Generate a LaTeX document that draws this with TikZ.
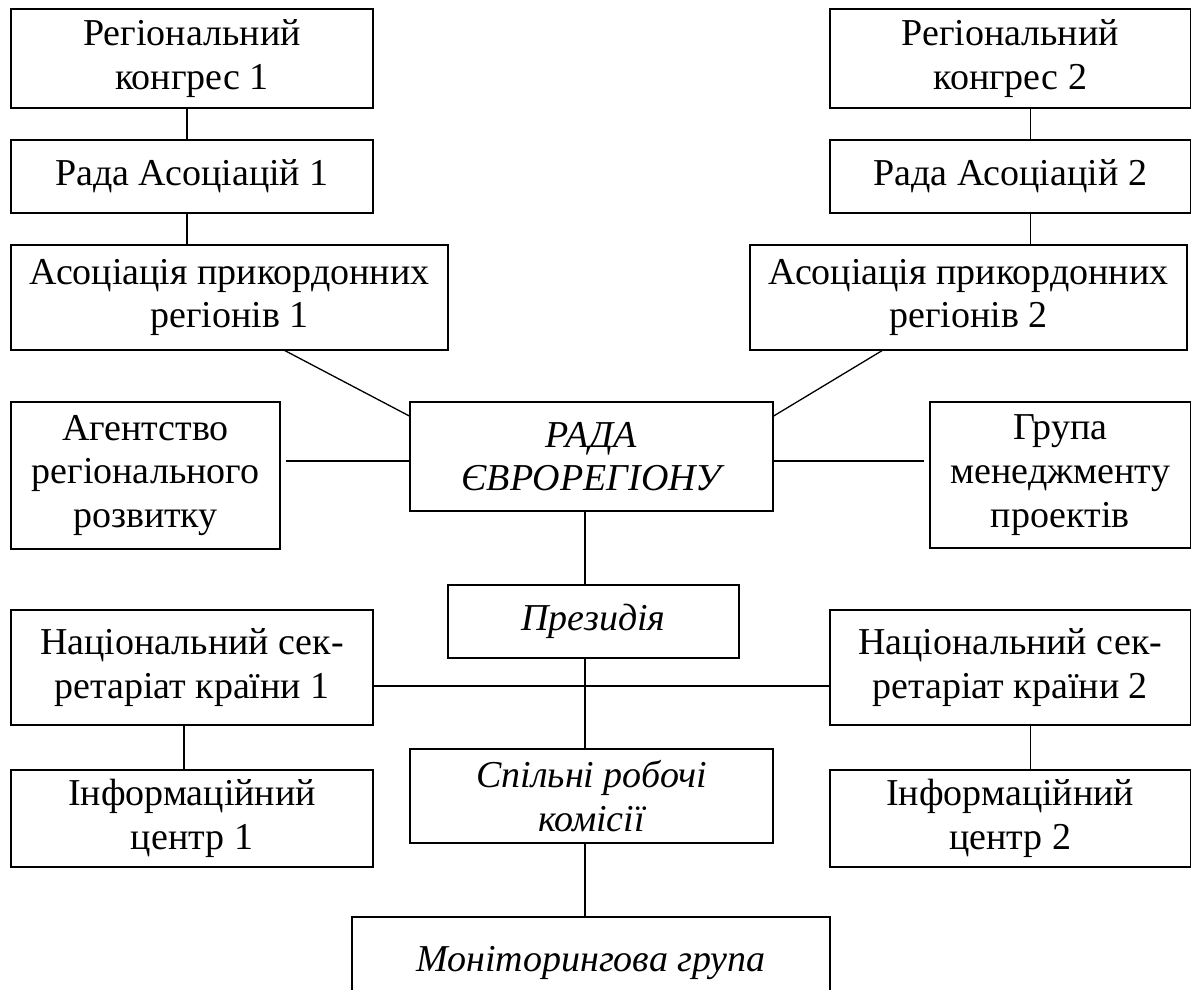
\documentclass[tikz,border=0pt]{standalone}
\usepackage{fontspec}
\setmainfont{Liberation Serif}
\usetikzlibrary{calc}
\tikzset{
  boxst/.style={draw, line width=1.3pt, inner sep=0pt, align=center,
    font=\fontsize{38}{43.7}\selectfont},
  itbox/.style={boxst, font=\fontsize{38}{43.7}\selectfont\itshape},
  link/.style={line width=1.3pt},
}
% #1 style, #2 name, #3 x1, #4 y1, #5 x2, #6 y2, #7 text
\newcommand{\mybox}[7]{%
  \node[#1, minimum width={(#5-#3)*1pt}, minimum height={(#6-#4)*1pt}]
    (#2) at ({(#3+#5)/2},{(#4+#6)/2}) {#7};}
\begin{document}
\begin{tikzpicture}[x=1pt,y=-1pt]
\clip (0,0) rectangle (1192,989);
% left column
\mybox{boxst}{rk1}{11}{9}{373}{108}{Регіональний\\конгрес 1}
\mybox{boxst}{ra1}{11}{140}{373}{213}{Рада Асоціацій 1}
\mybox{boxst}{as1}{11}{245}{448}{350}{Асоціація прикордонних\\регіонів 1}
\mybox{boxst}{ag}{11}{402}{280}{549}{Агентство\\регіонального\\розвитку}
\mybox{boxst}{ns1}{11}{610}{373}{725}{Національний сек-\\ретаріат країни 1}
\mybox{boxst}{ic1}{11}{770}{373}{867}{Інформаційний\\центр 1}
% right column
\mybox{boxst}{rk2}{830}{9}{1190.5}{108}{Регіональний\\конгрес 2}
\mybox{boxst}{ra2}{830}{140}{1190.5}{213}{Рада Асоціацій 2}
\mybox{boxst}{as2}{750}{245}{1187}{350}{Асоціація прикордонних\\регіонів 2}
\mybox{boxst}{grp}{930}{402}{1190.5}{548}{Група\\менеджменту\\проектів}
\mybox{boxst}{ns2}{830}{610}{1190.5}{725}{Національний сек-\\ретаріат країни 2}
\mybox{boxst}{ic2}{830}{770}{1190.5}{867}{Інформаційний\\центр 2}
% centre column
\mybox{itbox}{rada}{410}{402}{773}{511}{РАДА\\ЄВРОРЕГІОНУ}
\mybox{itbox}{pres}{448}{585}{739}{658}{Президія}
\mybox{itbox}{spil}{410}{749}{773}{843}{Спільні робочі\\комісії}
\mybox{itbox}{mon}{352}{917}{830}{1009}{Моніторингова група}
% helper coordinates
\coordinate (cx) at (585,0);
\coordinate (hl) at (0,461);
\coordinate (hm) at (0,686);
% connectors
\draw[link] ([xshift=-5pt]rk1.south) -- ([xshift=-5pt]ra1.north);
\draw[link] ([xshift=-5pt]ra1.south) -- ([xshift=-5pt]ra1.south |- as1.north);
\draw[link] ([xshift=20pt]rk2.south) -- ([xshift=20pt]ra2.north);
\draw[link] ([xshift=20pt]ra2.south) -- ([xshift=20pt]ra2.south |- as2.north);
\draw[link] ([xshift=55.5pt]as1.south) -- ([yshift=40.5pt]rada.west);
\draw[link] ([xshift=-86.5pt]as2.south) -- ([yshift=40.5pt]rada.east);
\draw[link] ($(ag.east |- hl)+(5,0)$) -- (rada.west |- hl);
\draw[link] (rada.east |- hl) -- ($(grp.west |- hl)+(-5,0)$);
\draw[link] (rada.south -| cx) -- (pres.north -| cx);
\draw[link] (pres.south -| cx) -- (spil.north -| cx);
\draw[link] (ns1.east |- hm) -- (ns2.west |- hm);
\draw[link] (spil.south -| cx) -- (mon.north -| cx);
\draw[link] ([xshift=-8pt]ns1.south) -- ([xshift=-8pt]ic1.north);
\draw[link] ([xshift=20pt]ns2.south) -- ([xshift=20pt]ic2.north);
\end{tikzpicture}
\end{document}
